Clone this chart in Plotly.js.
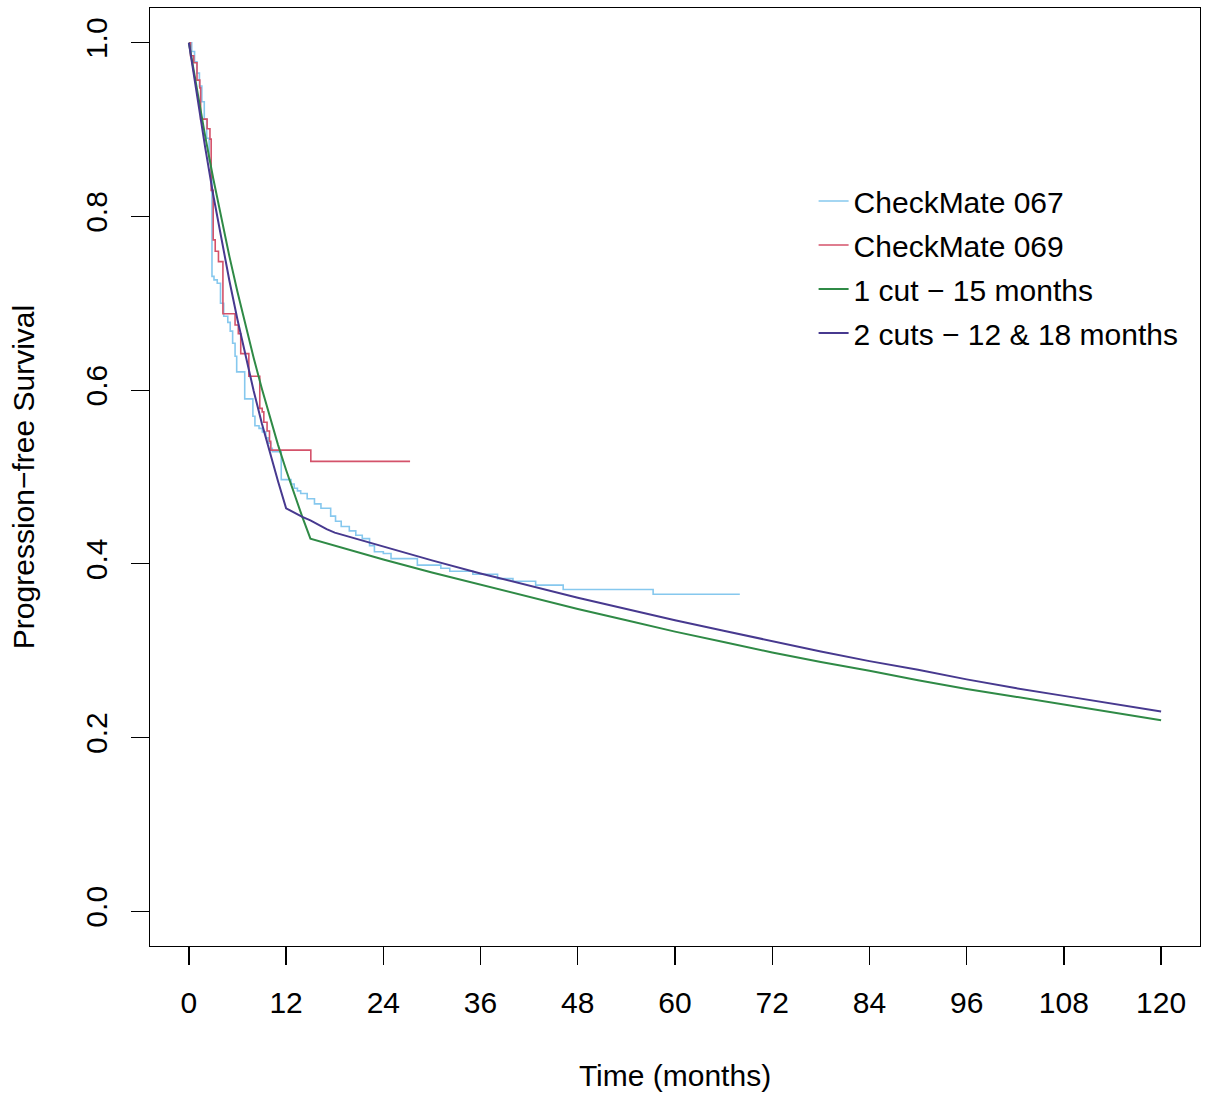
<!DOCTYPE html>
<html>
<head>
<meta charset="utf-8">
<script src="https://cdn.plot.ly/plotly-3.0.1.min.js"></script>
<style>
  html, body { margin: 0; padding: 0; background: #ffffff; }
  #chart { width: 1205px; height: 1095px; }
</style>
</head>
<body>
<div id="chart"></div>
<script>
// ---- Data ----
// Kaplan-Meier: CheckMate 067
const kmTime067 = [0, 0.35, 0.7, 1.0, 1.3, 1.6, 1.9, 2.2, 2.5, 2.7,
  2.85, 3.1, 3.5, 3.9, 4.3, 4.8, 5.1, 5.4, 5.7, 5.9,
  6.89, 7.9, 8.15, 8.66, 9.07, 9.49, 9.8, 10.1, 10.3, 11.4,
  12.6, 13.0, 13.4, 13.8, 14.6, 15.5, 16.3, 17.5, 18.1, 18.8,
  19.8, 20.6, 21.4, 22.3, 22.9, 24.0, 24.95, 28.2, 31.1, 32.2,
  35.05, 38.1, 40.0, 42.8, 46.2, 57.3, 68.0];
const kmSurv067 = [1.0, 0.990, 0.978, 0.965, 0.950, 0.932, 0.912, 0.890, 0.865, 0.845,
  0.731, 0.727, 0.723, 0.700, 0.685, 0.678, 0.668, 0.654, 0.639, 0.621,
  0.590, 0.570, 0.559, 0.556, 0.552, 0.545, 0.539, 0.533, 0.529, 0.497,
  0.492, 0.487, 0.484, 0.481, 0.475, 0.469, 0.464, 0.455, 0.449, 0.443,
  0.438, 0.433, 0.429, 0.421, 0.414, 0.412, 0.406, 0.3985, 0.395, 0.3915,
  0.388, 0.383, 0.380, 0.3755, 0.3705, 0.365, 0.365];

// Kaplan-Meier: CheckMate 069
const kmTime069 = [0, 0.2, 0.6, 1.0, 1.35, 1.45, 2.25, 2.6, 2.75, 3.0,
  3.25, 3.65, 4.2, 5.7, 6.1, 6.4, 7.4, 8.75, 9.05, 9.25,
  9.65, 9.95, 10.1, 15.05, 27.3];
const kmSurv069 = [1.0, 0.985, 0.977, 0.957, 0.948, 0.912, 0.901, 0.889, 0.830, 0.773,
  0.760, 0.748, 0.688, 0.675, 0.665, 0.642, 0.616, 0.579, 0.575, 0.563,
  0.553, 0.541, 0.531, 0.518, 0.518];

// Model: 1 cut - 15 months
const cut1Time = [0, 1, 2, 3, 4, 5, 6, 7, 8, 9, 10, 11, 12, 13, 14, 15,
  18, 24, 30, 36, 42, 48, 54, 60, 66, 72, 78, 84, 90, 96, 102, 108, 114, 120];
const cut1Surv = [1.0, 0.945, 0.893, 0.844, 0.798, 0.754, 0.713, 0.674, 0.637, 0.602, 0.569, 0.537, 0.508, 0.480, 0.454, 0.429,
  0.421, 0.405, 0.390, 0.376, 0.362, 0.348, 0.335, 0.322, 0.310, 0.298, 0.287, 0.277, 0.266, 0.256, 0.247, 0.238, 0.229, 0.220];

// Model: 2 cuts - 12 & 18 months
const cut2Time = [0, 1, 2, 3, 4, 5, 6, 7, 8, 9, 10, 11, 12, 13, 14, 15, 16, 17, 18,
  24, 30, 36, 42, 48, 54, 60, 66, 72, 78, 84, 90, 96, 102, 108, 114, 120];
const cut2Surv = [1.0, 0.938, 0.880, 0.825, 0.774, 0.726, 0.681, 0.639, 0.599, 0.562, 0.527, 0.495, 0.464, 0.459, 0.454, 0.450, 0.445, 0.440, 0.436,
  0.420, 0.404, 0.389, 0.375, 0.361, 0.348, 0.335, 0.323, 0.311, 0.299, 0.288, 0.278, 0.267, 0.257, 0.248, 0.239, 0.230];

const seriesNames = ["CheckMate 067", "CheckMate 069", "1 cut \u2212 15 months", "2 cuts \u2212 12 & 18 months"];
const xTicks = [0, 12, 24, 36, 48, 60, 72, 84, 96, 108, 120];
const yTicks = [0, 0.2, 0.4, 0.6, 0.8, 1.0];
const yTickText = ["0.0", "0.2", "0.4", "0.6", "0.8", "1.0"];

// ---- Traces ----
const FONT = "Liberation Sans, Arial, sans-serif";
const FS = 30;
const traces = [
  { x: kmTime067, y: kmSurv067, name: seriesNames[0], legendgroup: "a", mode: "lines",
    line: { color: "#86c8ee", width: 1.6, shape: "hv" } },
  { x: kmTime069, y: kmSurv069, name: seriesNames[1], legendgroup: "b", mode: "lines",
    line: { color: "#d4526a", width: 1.6, shape: "hv" } },
  { x: cut1Time, y: cut1Surv, name: seriesNames[2], legendgroup: "c", mode: "lines",
    line: { color: "#2f8a46", width: 2, shape: "linear" } },
  { x: cut2Time, y: cut2Surv, name: seriesNames[3], legendgroup: "d", mode: "lines",
    line: { color: "#47398f", width: 2, shape: "linear" } }
];

const layout = {
  width: 1205, height: 1095,
  margin: { l: 150, r: 5, t: 8, b: 149 },
  paper_bgcolor: "#ffffff", plot_bgcolor: "#ffffff",
  font: { family: FONT, size: FS, color: "#000000" },
  showlegend: true,
  legend: {
    x: 0.632, y: 0.822, xanchor: "left", yanchor: "top",
    bgcolor: "rgba(0,0,0,0)", borderwidth: 0,
    font: { family: FONT, size: FS, color: "#000000" },
    tracegroupgap: 2
  },
  xaxis: {
    range: [-4.8, 124.8], tickmode: "array", tickvals: xTicks,
    ticks: "outside", ticklen: 18, tickwidth: 1.3, tickcolor: "#000",
    showline: true, mirror: true, linecolor: "#000", linewidth: 1.3,
    showgrid: false, zeroline: false, ticklabelstandoff: 12,
    tickfont: { family: FONT, size: FS },
    title: { text: "Time (months)", font: { family: FONT, size: FS }, standoff: 46 }
  },
  yaxis: {
    range: [-0.04, 1.04], tickmode: "array", tickvals: yTicks, ticktext: yTickText,
    ticks: "outside", ticklen: 18, tickwidth: 1.3, tickcolor: "#000",
    showline: true, mirror: true, linecolor: "#000", linewidth: 1.3,
    showgrid: false, zeroline: false, tickangle: -90, ticklabelstandoff: 12,
    tickfont: { family: FONT, size: FS },
    title: { text: "Progression\u2212free Survival", font: { family: FONT, size: FS }, standoff: 36 }
  }
};

Plotly.newPlot("chart", traces, layout, { staticPlot: true, displayModeBar: false });
</script>
</body>
</html>
